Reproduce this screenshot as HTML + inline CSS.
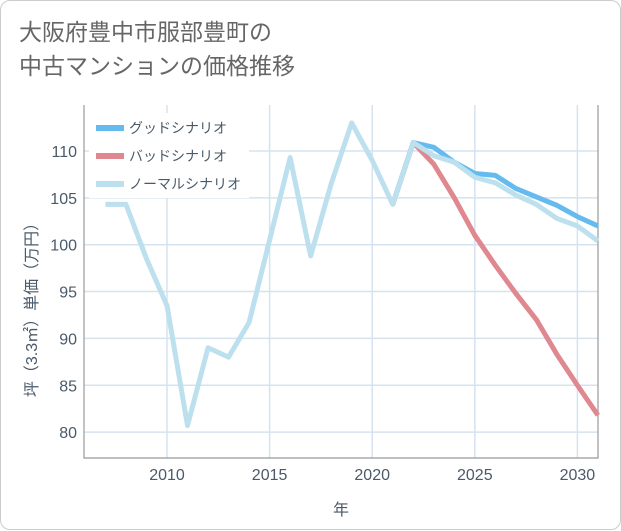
<!DOCTYPE html>
<html><head><meta charset="utf-8"><style>
body{margin:0;background:#fff;font-family:"Liberation Sans","Noto Sans CJK JP",sans-serif;}
#card{position:absolute;left:0;top:0;width:619px;height:528px;border:1px solid #ccc;border-radius:10px;background:#fff;}
#title{position:absolute;left:18px;top:14px;font-size:23px;line-height:34px;color:#666;}
</style></head><body>
<div id="card">
<div id="title">大阪府豊中市服部豊町の<br>中古マンションの価格推移</div>
<svg id="chart" width="621" height="530" style="position:absolute;left:0;top:0"></svg>
</div>
<script>
const years=[2007,2008,2009,2010,2011,2012,2013,2014,2015,2016,2017,2018,2019,2020,2021,2022,2023,2024,2025,2026,2027,2028,2029,2030,2031];
const normalValues=[104.3,104.3,98.5,93.5,80.7,89,88,91.7,100.5,109.3,98.8,106.5,113,109,104.3,110.9,109.5,108.8,107.2,106.6,105.3,104.3,102.8,102,100.4];
const goodYears=[2021,2022,2023,2024,2025,2026,2027,2028,2029,2030,2031];
const goodValues=[104.3,110.9,110.4,108.8,107.6,107.4,106,105.1,104.2,103,102];
const badYears=[2021,2022,2023,2024,2025,2026,2027,2028,2029,2030,2031];
const badValues=[104.3,110.9,108.6,105,101,97.8,94.8,92,88.3,85,81.8];
const yTicks=[80,85,90,95,100,105,110];
const xTicks=[2010,2015,2020,2025,2030];
const NS="http://www.w3.org/2000/svg";
const svg=document.getElementById('chart');
const L=83,R=597,T=104,B=457;
const xs=y=>166+(y-2010)*20.52;
const ys=v=>150+(110-v)*9.37;
function mk(t,a,p){const e=document.createElementNS(NS,t);for(const k in a)e.setAttribute(k,a[k]);(p||svg).appendChild(e);return e;}
yTicks.forEach(v=>{
 const g=mk('line',{x1:L,x2:R,y1:ys(v),y2:ys(v),stroke:'#d5e3ef','stroke-width':1.5});
 
 
 const t=mk('text',{x:76,y:ys(v)+6,'text-anchor':'end','font-size':16,fill:'#4a5a6a'});
 t.textContent=v;
 
 
});
xTicks.forEach(v=>{
 const g=mk('line',{x1:xs(v),x2:xs(v),y1:T,y2:B,stroke:'#d5e3ef','stroke-width':1.5});
 
 
 const t=mk('text',{x:xs(v),y:479,'text-anchor':'middle','font-size':16,fill:'#4a5a6a'});
 t.textContent=v;
 
 
});
const fr=mk('path',{d:`M${L},${T}V${B}H${R}V${T}`,fill:'none',stroke:'#999','stroke-width':1.2});


function line(xa,va,color,name){
 const d=xa.map((y,i)=>(i?'L':'M')+xs(y)+','+ys(va[i])).join('');
 const p=mk('path',{d:d,fill:'none',stroke:color,'stroke-width':5,'stroke-linejoin':'round'});
 
 
}
const clip=mk('clipPath',{id:'cp'});mk('rect',{x:L,y:T,width:R-L,height:B-T},clip);
line(badYears,badValues,'#e08890','bad-scenario-line');
line(goodYears,goodValues,'#66bbee','good-scenario-line');
line(years,normalValues,'#bde0ee','normal-scenario-line');
const leg=[['グッドシナリオ','#66bbee'],['バッドシナリオ','#e08890'],['ノーマルシナリオ','#bde0ee']];
const lb=mk('rect',{x:88,y:112,width:160,height:85,fill:'#fff'});


leg.forEach((l,i)=>{
 const y=127+i*28;
 const s=mk('line',{x1:95,x2:123,y1:y,y2:y,stroke:l[1],'stroke-width':6});
 
 
 const t=mk('text',{x:128,y:y+5,'font-size':14,fill:'#4a5a6a'});
 t.textContent=l[0];
 
 
});
const yt=mk('text',{transform:'translate(36,305) rotate(-90)','text-anchor':'middle','font-size':16,fill:'#4a5a6a'});
yt.textContent='坪（3.3㎡）単価（万円）';


const xt=mk('text',{x:340,y:514,'text-anchor':'middle','font-size':16,fill:'#4a5a6a'});
xt.textContent='年';


</script>
</body></html>
